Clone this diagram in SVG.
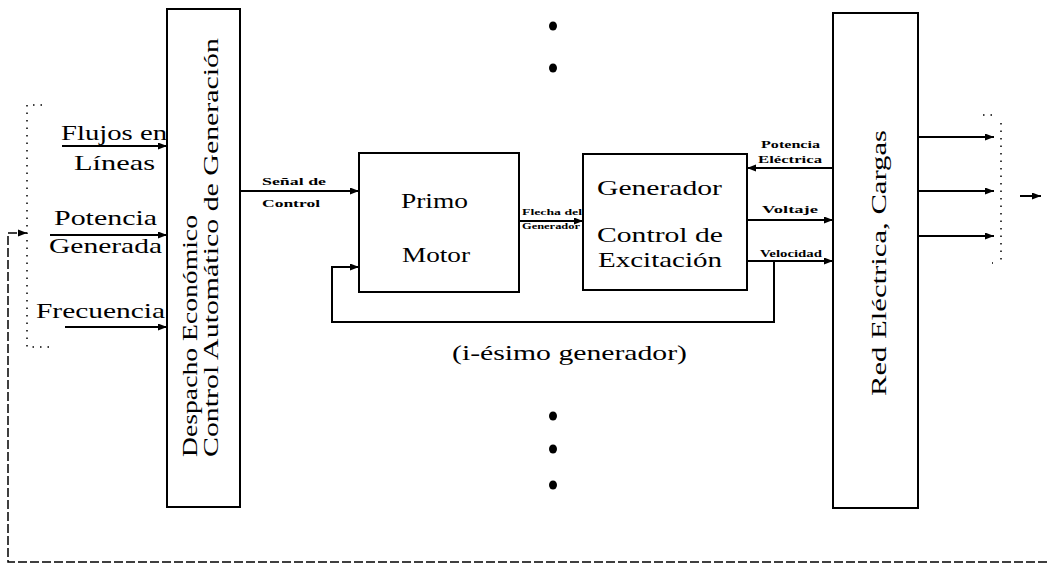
<svg xmlns="http://www.w3.org/2000/svg" width="1047" height="564" viewBox="0 0 1047 564">
<defs>
<marker id="ah" markerWidth="10" markerHeight="8" refX="9" refY="3.5" orient="auto" markerUnits="userSpaceOnUse">
<path d="M0,0 L9,3.5 L0,7 z" fill="#000"/>
</marker>
<style>
.box{fill:#fff;stroke:#000;stroke-width:2}
.ln{fill:none;stroke:#000;stroke-width:2}
.dash{fill:none;stroke:#000;stroke-width:1.5;stroke-dasharray:9 3}
.dot{fill:none;stroke:#000;stroke-width:1.5;stroke-dasharray:1.5 6}
.t{font-family:"Liberation Serif","DejaVu Serif",serif;font-size:21px;fill:#000}
.r{font-family:"Liberation Serif","DejaVu Serif",serif;font-size:20px;fill:#000}
.s{font-family:"Liberation Serif","DejaVu Serif",serif;font-size:11px;font-weight:bold;fill:#000}
</style>
</defs>
<rect width="1047" height="564" fill="#fff"/>

<g id="connectors">
<line class="ln" x1="62" y1="146" x2="167" y2="146" marker-end="url(#ah)"/>
<line class="ln" x1="50" y1="235" x2="167" y2="235" marker-end="url(#ah)"/>
<line class="ln" x1="65" y1="327" x2="167" y2="327" marker-end="url(#ah)"/>
<line class="ln" x1="240" y1="191" x2="359" y2="191" marker-end="url(#ah)"/>
<line class="ln" x1="519" y1="221" x2="583" y2="221" marker-end="url(#ah)"/>
<line class="ln" x1="833" y1="168" x2="747" y2="168" marker-end="url(#ah)"/>
<line class="ln" x1="747" y1="220" x2="833" y2="220" marker-end="url(#ah)"/>
<line class="ln" x1="747" y1="261" x2="833" y2="261" marker-end="url(#ah)"/>
<polyline class="ln" points="774,261 774,322 332,322 332,267 359,267" marker-end="url(#ah)"/>
<line class="ln" x1="918" y1="137" x2="994" y2="137" marker-end="url(#ah)"/>
<line class="ln" x1="918" y1="191" x2="994" y2="191" marker-end="url(#ah)"/>
<line class="ln" x1="918" y1="236" x2="994" y2="236" marker-end="url(#ah)"/>
<line class="ln" x1="1020" y1="196" x2="1041" y2="196" marker-end="url(#ah)"/>
<polyline class="dash" points="1047,562 8,562 8,233 27,233"/>
<path d="M18,229.5 L27,233 L18,236.5 z" fill="#000"/>
<polyline class="dot" points="42,105 27,105 27,347 52,347"/>
<polyline class="dot" points="983,115 994,115"/>
<line class="dot" x1="1001" y1="123" x2="1001" y2="262"/>
<line class="dot" x1="992" y1="263" x2="993" y2="263"/>
</g>

<g id="inputs">
<text class="t" x="61" y="140" textLength="106" lengthAdjust="spacingAndGlyphs">Flujos en</text>
<text class="t" x="74" y="170" textLength="81" lengthAdjust="spacingAndGlyphs">Líneas</text>
<text class="t" x="54" y="225" textLength="103" lengthAdjust="spacingAndGlyphs">Potencia</text>
<text class="t" x="49" y="253" textLength="113" lengthAdjust="spacingAndGlyphs">Generada</text>
<text class="t" x="36" y="318" textLength="129" lengthAdjust="spacingAndGlyphs">Frecuencia</text>
</g>

<g id="despacho">
<rect class="box" x="167" y="9" width="73" height="498"/>
<text class="r" transform="translate(197,457) rotate(-90)" textLength="242" lengthAdjust="spacingAndGlyphs">Despacho Económico</text>
<text class="r" transform="translate(218,457) rotate(-90)" textLength="419" lengthAdjust="spacingAndGlyphs">Control Automático de Generación</text>
</g>

<g id="senal-label">
<text class="s" x="262" y="185" textLength="64" lengthAdjust="spacingAndGlyphs">Señal de</text>
<text class="s" x="262" y="207" textLength="58" lengthAdjust="spacingAndGlyphs">Control</text>
</g>

<g id="primo-motor">
<rect class="box" x="359" y="153" width="160" height="139"/>
<text class="t" x="401" y="208" textLength="67" lengthAdjust="spacingAndGlyphs">Primo</text>
<text class="t" x="402" y="262" textLength="68" lengthAdjust="spacingAndGlyphs">Motor</text>
</g>

<g id="flecha-label">
<text class="s" x="522" y="215" textLength="60" lengthAdjust="spacingAndGlyphs" style="font-size:9px">Flecha del</text>
<text class="s" x="522" y="229" textLength="58" lengthAdjust="spacingAndGlyphs" style="font-size:9px">Generador</text>
</g>

<g id="generador">
<rect class="box" x="583" y="154" width="164" height="136"/>
<text class="t" x="597" y="195" textLength="125" lengthAdjust="spacingAndGlyphs">Generador</text>
<text class="t" x="597" y="242" textLength="126" lengthAdjust="spacingAndGlyphs">Control de</text>
<text class="t" x="598" y="267" textLength="124" lengthAdjust="spacingAndGlyphs">Excitación</text>
</g>

<g id="gen-labels">
<text class="s" x="761" y="148" textLength="59" lengthAdjust="spacingAndGlyphs">Potencia</text>
<text class="s" x="758" y="163" textLength="64" lengthAdjust="spacingAndGlyphs">Eléctrica</text>
<text class="s" x="762" y="213" textLength="56" lengthAdjust="spacingAndGlyphs">Voltaje</text>
<text class="s" x="760" y="257" textLength="62" lengthAdjust="spacingAndGlyphs">Velocidad</text>
</g>

<g id="i-esimo">
<text class="t" x="452" y="360" textLength="235" lengthAdjust="spacingAndGlyphs">(i-ésimo generador)</text>
</g>

<g id="ellipsis-top">
<ellipse cx="553" cy="26" rx="4" ry="4.5"/>
<ellipse cx="553" cy="68" rx="4" ry="4.5"/>
</g>
<g id="ellipsis-bottom">
<ellipse cx="553" cy="416" rx="4" ry="4.5"/>
<ellipse cx="553" cy="449" rx="4" ry="4.5"/>
<ellipse cx="553" cy="485" rx="4" ry="4.5"/>
</g>

<g id="red-electrica">
<rect class="box" x="833" y="13" width="85" height="495"/>
<text class="t" transform="translate(886,396) rotate(-90)" textLength="266" lengthAdjust="spacingAndGlyphs">Red Eléctrica, Cargas</text>
</g>
</svg>
